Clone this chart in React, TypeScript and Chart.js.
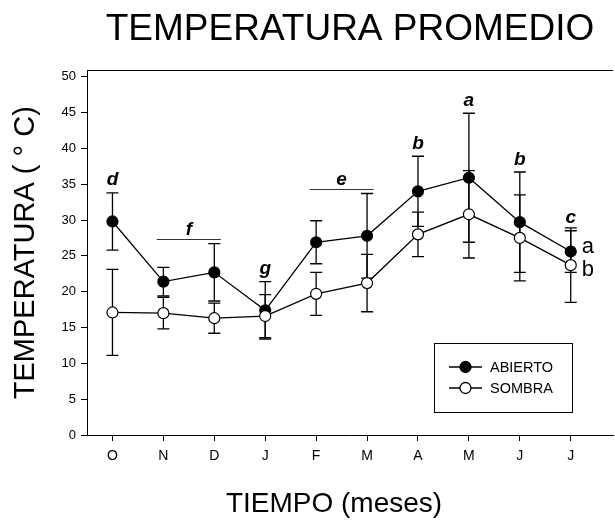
import React, { useEffect, useRef } from "react";
import { Chart, registerables } from "chart.js";

Chart.register(...registerables);

// Months from October to July
const months = ["O", "N", "D", "J", "F", "M", "A", "M", "J", "J"];
const yTicks = [0, 5, 10, 15, 20, 25, 30, 35, 40, 45, 50];

// Mean temperature (°C) and error for each treatment
const abiertoMean = [29.8, 21.4, 22.7, 17.4, 26.9, 27.8, 34.0, 35.9, 29.7, 25.6];
const abiertoErr = [4.0, 2.0, 4.0, 4.0, 3.0, 5.9, 4.9, 9.0, 7.0, 2.9];
const sombraMean = [17.1, 17.0, 16.3, 16.6, 19.7, 21.2, 28.0, 30.8, 27.5, 23.7];
const sombraErr = [6.0, 2.2, 2.1, 3.0, 3.0, 4.0, 3.1, 6.1, 6.0, 5.2];

// Significance letters over the ABIERTO series (first / last month of each group)
const groupLetters = ["d", "f", "g", "e", "b", "a", "b", "c"];
const groupFrom = [0, 1, 3, 4, 6, 7, 8, 9];
const groupTo = [0, 2, 3, 5, 6, 7, 8, 9];

// Letters next to the final pair of points
const endLetters = ["a", "b"];

const seriesNames = ["ABIERTO", "SOMBRA"];
const FONT = "Arial, 'Liberation Sans', Helvetica, sans-serif";

const decorPlugin = {
  id: "decor",
  beforeDatasetsDraw(chart: any) {
    const { ctx, scales } = chart;
    const x = scales.x;
    const y = scales.y;
    ctx.save();
    ctx.strokeStyle = "#000";
    ctx.lineWidth = 1.3;
    const drawBars = (means: number[], errs: number[]) => {
      means.forEach((m, i) => {
        const px = x.getPixelForValue(i);
        const top = y.getPixelForValue(m + errs[i]);
        const bot = y.getPixelForValue(m - errs[i]);
        ctx.beginPath();
        ctx.moveTo(px, top);
        ctx.lineTo(px, bot);
        ctx.moveTo(px - 6, top);
        ctx.lineTo(px + 6, top);
        ctx.moveTo(px - 6, bot);
        ctx.lineTo(px + 6, bot);
        ctx.stroke();
      });
    };
    drawBars(sombraMean, sombraErr);
    drawBars(abiertoMean, abiertoErr);
    ctx.restore();
  },
  afterDraw(chart: any) {
    const { ctx, scales, chartArea } = chart;
    const x = scales.x;
    const y = scales.y;
    ctx.save();

    // top frame line
    ctx.strokeStyle = "#000";
    ctx.lineWidth = 1;
    ctx.beginPath();
    ctx.moveTo(chartArea.left, Math.round(chartArea.top) + 0.5);
    ctx.lineTo(chartArea.right, Math.round(chartArea.top) + 0.5);
    ctx.stroke();

    // significance letters
    ctx.fillStyle = "#000";
    ctx.textAlign = "center";
    ctx.textBaseline = "alphabetic";
    ctx.font = `italic bold 19px ${FONT}`;
    groupLetters.forEach((t, g) => {
      let topVal = -Infinity;
      for (let i = groupFrom[g]; i <= groupTo[g]; i++) {
        topVal = Math.max(topVal, abiertoMean[i] + abiertoErr[i]);
      }
      const topPx = y.getPixelForValue(topVal);
      const x0 = x.getPixelForValue(groupFrom[g]);
      const x1 = x.getPixelForValue(groupTo[g]);
      const cx = (x0 + x1) / 2;
      if (groupFrom[g] !== groupTo[g]) {
        const ly = Math.round(topPx - 4.5) + 0.5;
        ctx.strokeStyle = "#333";
        ctx.lineWidth = 1;
        ctx.beginPath();
        ctx.moveTo(cx - 32, ly);
        ctx.lineTo(cx + 32, ly);
        ctx.stroke();
        ctx.fillText(t, cx, ly - 5);
      } else {
        ctx.fillText(t, cx, topPx - 7.5);
      }
    });

    // letters beside the last points
    const last = months.length - 1;
    ctx.font = `22px ${FONT}`;
    ctx.textAlign = "left";
    const lastX = x.getPixelForValue(last) + 11;
    ctx.fillText(endLetters[0], lastX, y.getPixelForValue(abiertoMean[last]) + 1.5);
    ctx.fillText(endLetters[1], lastX, y.getPixelForValue(sombraMean[last]) + 11);

    // legend box
    ctx.strokeStyle = "#000";
    ctx.lineWidth = 1;
    ctx.strokeRect(434.5, 343.5, 138, 69);
    const rows = [367, 388];
    const fills = ["#000", "#fff"];
    ctx.font = `14.5px ${FONT}`;
    ctx.textBaseline = "middle";
    rows.forEach((ry, k) => {
      ctx.strokeStyle = "#000";
      ctx.lineWidth = 1.3;
      ctx.beginPath();
      ctx.moveTo(449, ry);
      ctx.lineTo(482, ry);
      ctx.stroke();
      ctx.beginPath();
      ctx.arc(465.5, ry, 5.5, 0, Math.PI * 2);
      ctx.fillStyle = fills[k];
      ctx.fill();
      ctx.stroke();
      ctx.fillStyle = "#000";
      ctx.fillText(seriesNames[k], 490, ry + 1);
    });

    // x axis title
    ctx.font = `28px ${FONT}`;
    ctx.textAlign = "center";
    ctx.textBaseline = "alphabetic";
    ctx.fillText("TIEMPO (meses)", 334, 512);

    ctx.restore();
  },
};

export default function App() {
  const ref = useRef<HTMLCanvasElement | null>(null);

  useEffect(() => {
    if (!ref.current) return;
    const chart = new Chart(ref.current, {
      type: "line",
      data: {
        datasets: [
          {
            label: seriesNames[0],
            data: abiertoMean.map((v, i) => ({ x: i, y: v })),
            borderColor: "#000",
            borderWidth: 1.3,
            backgroundColor: "#000",
            pointBackgroundColor: "#000",
            pointBorderColor: "#000",
            pointBorderWidth: 1.2,
            pointRadius: 5.5,
            tension: 0,
            order: 1,
          },
          {
            label: seriesNames[1],
            data: sombraMean.map((v, i) => ({ x: i, y: v })),
            borderColor: "#000",
            borderWidth: 1.3,
            backgroundColor: "#fff",
            pointBackgroundColor: "#fff",
            pointBorderColor: "#000",
            pointBorderWidth: 1.2,
            pointRadius: 5.5,
            tension: 0,
            order: 0,
          },
        ],
      },
      options: {
        responsive: false,
        animation: false,
        devicePixelRatio: 1,
        layout: { autoPadding: false, padding: { left: 0, right: 2, top: 0, bottom: 0 } },
        plugins: {
          legend: { display: false },
          tooltip: { enabled: false },
          title: {
            display: true,
            text: "TEMPERATURA PROMEDIO",
            fullSize: false,
            color: "#000",
            font: { family: FONT, size: 37, weight: "normal" },
            padding: { top: 8, bottom: 18 },
          },
        },
        scales: {
          x: {
            type: "linear",
            min: -0.5,
            max: 9.83,
            afterBuildTicks: (s: any) => {
              s.ticks = months.map((_, i) => ({ value: i }));
            },
            afterFit: (s: any) => {
              s.height = 85;
            },
            ticks: {
              autoSkip: false,
              maxRotation: 0,
              padding: 7,
              color: "#000",
              font: { family: FONT, size: 14 },
              callback: (v: any) => months[v] ?? "",
            },
            grid: {
              drawOnChartArea: false,
              drawTicks: true,
              tickLength: 6,
              color: "#000",
            },
            border: { display: true, color: "#000", width: 1 },
          },
          y: {
            type: "linear",
            min: 0,
            max: 50.88,
            afterBuildTicks: (s: any) => {
              s.ticks = yTicks.map((v) => ({ value: v }));
            },
            afterFit: (s: any) => {
              s.width = 87;
            },
            ticks: {
              padding: 5,
              color: "#000",
              font: { family: FONT, size: 13 },
            },
            grid: {
              drawOnChartArea: false,
              drawTicks: true,
              tickLength: 6,
              color: "#000",
            },
            border: { display: true, color: "#000", width: 1 },
            title: {
              display: true,
              text: "TEMPERATURA ( ° C)",
              color: "#000",
              font: { family: FONT, size: 29 },
              padding: { top: 9, bottom: 0 },
            },
          },
        },
      },
      plugins: [decorPlugin],
    });
    return () => chart.destroy();
  }, []);

  return (
    <div style={{ position: "absolute", left: 0, top: 0, width: 615, height: 520, background: "#fff" }}>
      <canvas ref={ref} width={615} height={520} style={{ display: "block" }} />
    </div>
  );
}
